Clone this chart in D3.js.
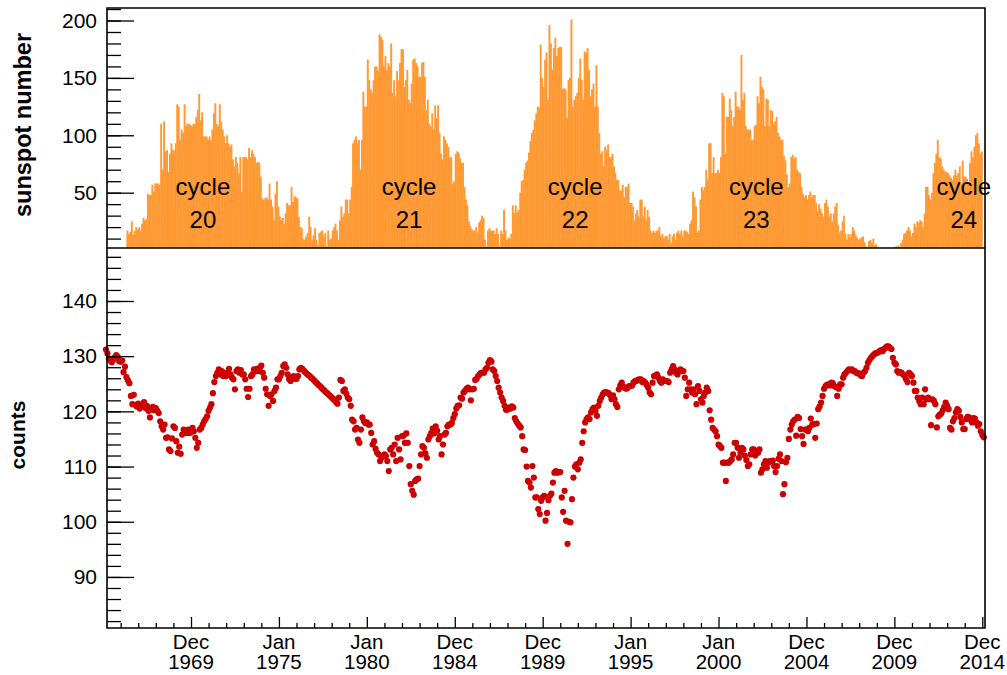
<!DOCTYPE html>
<html>
<head>
<meta charset="utf-8">
<script src="https://cdn.jsdelivr.net/npm/d3@7"></script>
<style>
  body { margin: 0; background: #fff; }
  text { font-family: "Liberation Sans", Arial, Helvetica, sans-serif; }
</style>
</head>
<body>
<script>
// Monthly sunspot number, first value is May 1966, last is Dec 2014
var sunStart = [1966, 4];
var sunspots = [
  17, 14, 16, 25, 13, 17, 20, 18,
  20, 17, 23, 28, 26, 27, 49, 48, 48, 57, 51, 58,
  58, 58, 57, 110, 70, 112, 86, 87, 68, 84, 93, 87,
  87, 93, 127, 125, 96, 105, 102, 127, 108, 110, 110, 109,
  108, 110, 110, 116, 122, 136, 113, 120, 99, 99, 99, 96,
  99, 96, 105, 119, 128, 110, 108, 127, 112, 105, 99, 93,
  100, 93, 90, 92, 79, 73, 81, 76, 67, 81, 51, 81,
  81, 81, 79, 89, 81, 87, 84, 81, 76, 77, 76, 64,
  45, 44, 45, 46, 44, 58, 44, 38, 26, 49, 60, 38,
  29, 26, 28, 23, 32, 41, 39, 39, 55, 42, 47, 46,
  45, 29, 20, 19, 10, 9, 12, 15, 29, 20, 9, 13,
  19, 9, 4, 15, 16, 17, 12, 15, 3, 17, 9, 10,
  17, 20, 23, 17, 9, 26, 38, 29, 32, 44, 44, 32,
  44, 55, 93, 96, 99, 93, 96, 70, 96, 138, 125, 125,
  166, 148, 140, 137, 148, 160, 160, 156, 188, 186, 183, 160,
  169, 157, 163, 160, 180, 137, 148, 134, 156, 148, 163, 175,
  175, 142, 148, 157, 131, 128, 145, 166, 167, 163, 160, 151,
  151, 163, 164, 151, 122, 131, 110, 108, 119, 105, 126, 115,
  126, 102, 84, 79, 99, 96, 93, 90, 81, 81, 58, 60,
  84, 86, 85, 80, 76, 76, 55, 44, 39, 25, 21, 18,
  17, 17, 20, 15, 24, 26, 30, 28, 9, 3, 17, 19,
  17, 17, 17, 14, 19, 14, 3, 17, 14, 35, 17, 9,
  11, 10, 14, 39, 32, 39, 33, 35, 50, 60, 61, 70,
  76, 78, 85, 95, 102, 105, 113, 119, 125, 124, 179, 150,
  142, 166, 172, 131, 196, 180, 157, 176, 185, 169, 176, 177,
  177, 140, 141, 140, 115, 148, 150, 201, 125, 131, 134, 137,
  150, 167, 148, 131, 173, 172, 176, 157, 134, 140, 145, 125,
  161, 125, 102, 84, 86, 73, 90, 87, 92, 81, 81, 84,
  73, 67, 61, 61, 52, 52, 57, 46, 55, 55, 58, 41,
  41, 38, 26, 32, 35, 29, 44, 44, 29, 38, 26, 35,
  29, 17, 15, 17, 15, 17, 17, 20, 12, 14, 10, 12,
  12, 9, 14, 6, 12, 14, 9, 15, 17, 14, 17, 12,
  17, 17, 16, 14, 23, 26, 51, 46, 38, 15, 17, 44,
  55, 52, 55, 70, 61, 93, 93, 67, 81, 67, 67, 70,
  67, 81, 137, 134, 84, 116, 116, 132, 122, 108, 116, 138,
  125, 125, 122, 170, 131, 137, 108, 105, 105, 105, 96, 96,
  108, 109, 134, 128, 151, 142, 140, 108, 132, 131, 108, 122,
  121, 110, 112, 116, 102, 99, 96, 96, 82, 78, 66, 55,
  58, 81, 83, 80, 81, 70, 68, 67, 55, 49, 46, 48,
  44, 48, 51, 46, 48, 48, 41, 34, 40, 36, 32, 29,
  41, 44, 38, 29, 32, 25, 32, 38, 41, 22, 15, 17,
  25, 30, 14, 9, 14, 11, 14, 20, 17, 13, 11, 9,
  10, 11, 12, 7, 3, 2, 8, 9, 6, 10, 4, 5,
  2, 1, 2, 1, 2, 2, 1, 1, 2, 1, 1, 2,
  3, 3, 4, 2, 6, 9, 14, 15, 17, 20, 17, 12,
  15, 23, 20, 25, 24, 26, 25, 20, 32, 55, 55, 48,
  44, 50, 67, 76, 84, 96, 81, 80, 73, 70, 68, 68,
  67, 65, 63, 61, 65, 70, 65, 67, 73, 58, 78, 64,
  64, 62, 58, 76, 86, 81, 90, 100, 102, 93, 84, 86
];

// Monthly neutron monitor counts, first value is Mar 1965, last is Feb 2015
var countStart = [1965, 2];
var counts = [
  131.2, 130.5, 129.6, 129.2, 128.9, 129.4, 129.8, 130.2, 129.9, 129.1,
  129.0, 129.2, 127.1, 128.1, 126.2, 125.6, 125.1, 122.8, 121.3, 123.0, 121.2, 120.9,
  121.4, 120.5, 121.2, 121.0, 121.7, 120.6, 121.0, 120.1, 118.9, 120.3, 120.8, 120.2,
  120.6, 120.1, 119.7, 118.2, 117.3, 116.7, 117.6, 115.2, 115.3, 113.1, 112.8, 115.1,
  117.3, 117.0, 114.6, 112.5, 113.6, 112.3, 115.8, 116.7, 116.4, 116.1, 116.7, 116.1,
  116.2, 117.0, 116.4, 115.2, 113.4, 114.3, 116.7, 117.0, 117.6, 118.2, 118.6, 119.1,
  120.1, 120.7, 121.3, 123.3, 125.3, 126.4, 127.0, 127.6, 126.7, 127.3, 126.4, 127.0,
  126.4, 127.0, 127.7, 126.7, 126.1, 125.8, 124.0, 127.3, 127.6, 127.0, 127.5, 126.7,
  126.7, 125.8, 124.1, 122.6, 124.1, 126.4, 126.7, 127.6, 127.3, 127.7, 127.3, 127.9,
  128.3, 127.0, 126.1, 124.1, 123.1, 121.0, 122.8, 123.1, 121.9, 123.7, 124.3, 125.8,
  125.8, 126.4, 127.0, 128.2, 128.5, 127.9, 126.7, 125.8, 125.5, 126.1, 126.4, 125.9,
  125.9, 126.4, 127.6, 127.9, 127.7, 127.4, 127.1, 126.8, 126.6, 126.4, 126.1, 125.9,
  125.6, 125.3, 125.1, 124.8, 124.6, 124.3, 124.0, 123.8, 123.5, 123.3, 123.0, 122.8,
  122.5, 122.3, 122.0, 121.7, 121.4, 122.5, 125.7, 125.5, 123.7, 124.0, 123.2, 122.5,
  122.2, 121.0, 118.5, 118.2, 116.7, 117.0, 114.9, 114.3, 116.7, 118.9, 118.2, 117.9,
  118.0, 117.6, 117.6, 116.1, 114.0, 114.6, 113.2, 112.5, 112.2, 111.0, 111.6, 111.9,
  112.2, 111.9, 111.0, 109.2, 113.1, 113.4, 112.2, 114.0, 111.0, 115.2, 113.1, 111.3,
  115.5, 115.6, 114.3, 116.0, 114.3, 110.1, 106.8, 105.6, 104.9, 107.4, 107.7, 107.8,
  110.1, 112.2, 113.7, 113.4, 112.4, 111.6, 114.9, 115.5, 116.1, 116.9, 116.0, 117.3,
  116.5, 114.9, 115.5, 112.2, 114.0, 115.8, 116.1, 117.3, 117.6, 117.6, 117.9, 118.8,
  119.5, 120.5, 121.0, 121.1, 122.5, 122.3, 123.4, 123.7, 124.1, 124.3, 124.0, 122.0,
  124.0, 124.1, 125.7, 125.9, 126.4, 126.7, 127.0, 127.0, 127.0, 127.6, 127.9, 128.8,
  129.3, 129.0, 127.6, 127.3, 126.4, 125.5, 124.3, 123.4, 122.5, 121.9, 121.0, 120.3,
  120.3, 120.7, 120.5, 120.9, 120.7, 118.8, 118.2, 117.8, 117.4, 117.1, 115.5, 113.1,
  113.0, 110.0, 107.4, 107.1, 106.2, 110.1, 108.0, 104.4, 104.4, 102.3, 101.4, 103.8,
  104.4, 104.7, 100.2, 101.6, 103.9, 104.7, 105.1, 107.1, 108.9, 109.2, 108.9, 109.0,
  109.0, 104.4, 101.8, 105.6, 100.2, 96.0, 100.0, 99.9, 104.1, 108.0, 110.0, 110.4,
  109.5, 110.7, 111.3, 114.3, 116.4, 118.0, 118.6, 118.9, 118.6, 119.8, 120.4, 120.7,
  120.1, 119.2, 121.0, 121.9, 122.5, 123.1, 123.4, 123.5, 123.4, 123.3, 122.9, 122.2,
  122.9, 122.2, 121.3, 120.8, 124.0, 124.7, 125.2, 124.5, 124.3, 124.1, 124.3, 124.6,
  124.6, 124.7, 125.2, 125.5, 125.5, 125.7, 125.8, 125.8, 125.3, 125.5, 125.2, 124.8,
  124.3, 123.4, 123.1, 125.2, 126.4, 126.5, 126.7, 126.1, 125.5, 125.2, 125.8, 125.5,
  125.5, 125.5, 125.3, 127.0, 127.6, 128.2, 127.6, 127.0, 126.7, 127.3, 127.6, 127.3,
  127.3, 126.1, 122.8, 124.0, 125.2, 124.0, 123.4, 124.0, 123.1, 121.3, 124.6, 123.7,
  122.2, 121.6, 122.8, 123.4, 124.3, 123.7, 120.2, 118.5, 117.0, 116.7, 116.4, 115.5,
  114.0, 113.7, 113.4, 110.7, 110.7, 107.4, 110.7, 110.7, 111.0, 111.3, 112.2, 114.3,
  114.3, 113.4, 111.6, 112.5, 113.4, 113.1, 112.0, 111.2, 110.1, 110.4, 112.2, 113.1,
  113.1, 112.0, 112.8, 112.5, 113.1, 108.9, 109.5, 110.4, 111.0, 109.8, 110.7, 111.0,
  111.0, 111.1, 110.1, 109.0, 110.1, 111.4, 112.2, 111.0, 105.0, 106.8, 110.8, 111.6,
  115.0, 116.7, 117.6, 118.2, 118.5, 115.6, 119.0, 118.8, 116.8, 115.5, 114.1, 116.7,
  116.7, 116.4, 117.0, 118.7, 117.6, 117.7, 115.2, 117.8, 120.4, 120.9, 121.6, 122.8,
  124.1, 124.6, 124.8, 124.9, 124.7, 125.2, 125.1, 124.6, 124.4, 122.8, 124.1, 124.9,
  124.9, 126.1, 126.7, 127.0, 127.3, 127.6, 127.5, 127.6, 127.3, 127.3, 127.0, 126.9,
  126.9, 126.5, 126.4, 127.0, 127.3, 127.9, 128.8, 129.3, 129.7, 130.0, 130.3, 130.5,
  130.6, 130.7, 130.9, 131.1, 130.9, 131.3, 131.5, 131.8, 131.8, 131.5, 131.3, 129.7,
  128.8, 128.5, 127.3, 127.0, 127.1, 127.0, 126.7, 126.4, 125.8, 125.3, 127.0, 126.7,
  126.4, 125.2, 123.7, 123.7, 122.5, 121.9, 121.3, 122.5, 121.3, 124.0, 122.2, 122.5,
  122.2, 117.5, 122.2, 121.9, 121.3, 117.1, 119.1, 119.4, 119.6, 120.2, 120.8, 121.6,
  121.0, 120.4, 117.0, 116.7, 118.2, 118.8, 119.8, 120.4, 120.1, 119.0, 118.0, 116.8,
  116.8, 118.6, 119.0, 118.9, 118.5, 118.0, 118.8, 118.7, 118.0, 117.4, 117.7, 116.4,
  115.7, 115.3
];

// Axis ticks and labels
var sunTicks = [50, 100, 150, 200];
var countTicks = [90, 100, 110, 120, 130, 140];
var timeTickYears = [1970, 1975, 1980, 1985, 1990, 1995, 2000, 2005, 2010, 2015];
var timeTickLabels = [
  ["Dec", "1969"], ["Jan", "1975"], ["Jan", "1980"], ["Dec", "1984"], ["Dec", "1989"],
  ["Jan", "1995"], ["Jan", "2000"], ["Dec", "2004"], ["Dec", "2009"], ["Dec", "2014"]
];

// Solar cycle annotations (centre of each label, in decimal years)
var cycleNames = ["20", "21", "22", "23", "24"];
var cycleYears = [1970.68, 1982.4, 1991.85, 2002.15, 2013.95];

// Canvas and pad frames
var width = 1007, height = 675;
var frame = {left: 107, right: 985, top: 8, mid: 248, bottom: 628};

var svg = d3.select("body").append("svg")
    .attr("width", width)
    .attr("height", height);

function utc(y, m) { return new Date(Date.UTC(y, m, 1)); }
function decimalYear(t) {
  var y = Math.floor(t);
  return new Date(Date.UTC(y, 0, 1) + (t - y) * 365.25 * 864e5);
}

// Shared time axis: one major tick every five years
var x = d3.scaleUtc()
    .domain([utc(1970, 0), utc(2015, 0)])
    .range([191, 982.3]);

var ySun = d3.scaleLinear().domain([1.8, 210.9]).range([frame.mid, frame.top]);
var yCount = d3.scaleLinear().domain([80.75, 149.6]).range([frame.bottom, frame.mid]);

// ****************** sunspot pad ***************************

var sunData = sunspots.map(function(v, i) {
  return {t0: utc(sunStart[0], sunStart[1] + i), t1: utc(sunStart[0], sunStart[1] + i + 1), v: v};
}).filter(function(d) { return d.v > ySun.domain()[0]; });

// bars overlap a little so the fill looks solid
svg.append("g")
  .selectAll("rect")
  .data(sunData)
  .enter().append("rect")
    .attr("x", function(d) { return x(d.t0); })
    .attr("width", function(d) { return x(d.t1) - x(d.t0) + 0.45; })
    .attr("y", function(d) { return ySun(d.v); })
    .attr("height", function(d) { return frame.mid - ySun(d.v); })
    .attr("fill", "#ff9933");

// Cycle labels
var cycles = svg.append("g").selectAll("g")
    .data(cycleNames)
    .enter().append("g")
    .attr("transform", function(d, i) { return "translate(" + x(decimalYear(cycleYears[i])) + ",0)"; });

cycles.append("text")
    .attr("y", 195)
    .attr("text-anchor", "middle")
    .style("font-size", "24px")
    .text("cycle");

cycles.append("text")
    .attr("y", 228)
    .attr("text-anchor", "middle")
    .style("font-size", "24px")
    .text(function(d) { return d; });

// ****************** counts pad ***************************

var countData = counts.map(function(v, i) {
  return {t: utc(countStart[0], countStart[1] + i), v: v};
});

svg.append("g")
  .selectAll("circle")
  .data(countData)
  .enter().append("circle")
    .attr("cx", function(d) { return x(d.t); })
    .attr("cy", function(d) { return yCount(d.v); })
    .attr("r", 3.1)
    .attr("fill", "#cc0000");

// ****************** axes ***************************

function styleAxis(g, size) {
  g.select(".domain").remove();
  g.selectAll("line").attr("stroke", "#000").attr("stroke-width", 1.3);
  g.selectAll("text")
    .attr("fill", "#000")
    .style("font-family", "'Liberation Sans', Arial, sans-serif")
    .style("font-size", size + "px");
}

// Left axis, upper pad
svg.append("g")
    .attr("transform", "translate(" + frame.left + ",0)")
    .call(d3.axisLeft(ySun).tickValues(d3.range(10, 211, 10)).tickSize(-14).tickFormat(""))
    .call(styleAxis, 21);

svg.append("g")
    .attr("transform", "translate(" + frame.left + ",0)")
    .call(d3.axisLeft(ySun).tickValues(sunTicks).tickSize(-27).tickPadding(10).tickFormat(d3.format("d")))
    .call(styleAxis, 21);

// Left axis, lower pad
svg.append("g")
    .attr("transform", "translate(" + frame.left + ",0)")
    .call(d3.axisLeft(yCount).tickValues(d3.range(82, 149, 2)).tickSize(-14).tickFormat(""))
    .call(styleAxis, 21);

svg.append("g")
    .attr("transform", "translate(" + frame.left + ",0)")
    .call(d3.axisLeft(yCount).tickValues(countTicks).tickSize(-27).tickPadding(10).tickFormat(d3.format("d")))
    .call(styleAxis, 21);

// Time axis: yearly minor ticks, five-yearly major ticks
var minorYears = d3.range(1966, 2015).filter(function(y) { return timeTickYears.indexOf(y) < 0; });

svg.append("g")
    .attr("transform", "translate(0," + frame.bottom + ")")
    .call(d3.axisBottom(x).tickValues(minorYears.map(function(y) { return utc(y, 0); })).tickSize(-5).tickFormat(""))
    .call(styleAxis, 21);

svg.append("g")
    .attr("transform", "translate(0," + frame.bottom + ")")
    .call(d3.axisBottom(x).tickValues(timeTickYears.map(function(y) { return utc(y, 0); })).tickSize(-11).tickFormat(""))
    .call(styleAxis, 21);

// two-line date labels under the major ticks
var timeLabels = svg.append("g").selectAll("text")
    .data(timeTickLabels)
    .enter().append("text")
    .attr("text-anchor", "middle")
    .style("font-size", "20.5px")
    .attr("transform", function(d, i) { return "translate(" + x(utc(timeTickYears[i], 0)) + ",0)"; });

timeLabels.append("tspan").attr("x", 0).attr("y", 649).text(function(d) { return d[0]; });
timeLabels.append("tspan").attr("x", 0).attr("y", 668.5).text(function(d) { return d[1]; });

// Pad frames
svg.append("path")
    .attr("d", "M" + frame.left + "," + frame.top + "H" + frame.right + "V" + frame.bottom +
               "H" + frame.left + "Z M" + frame.left + "," + frame.mid + "H" + frame.right)
    .attr("fill", "none")
    .attr("stroke", "#000")
    .attr("stroke-width", 1.6);

// Axis titles
svg.append("text")
    .attr("transform", "translate(30.5,125) rotate(-90)")
    .attr("text-anchor", "middle")
    .style("font-size", "23.5px")
    .style("font-weight", "bold")
    .text("sunspot number");

svg.append("text")
    .attr("transform", "translate(25,435) rotate(-90)")
    .attr("text-anchor", "middle")
    .style("font-size", "21px")
    .style("font-weight", "bold")
    .text("counts");
</script>
</body>
</html>
